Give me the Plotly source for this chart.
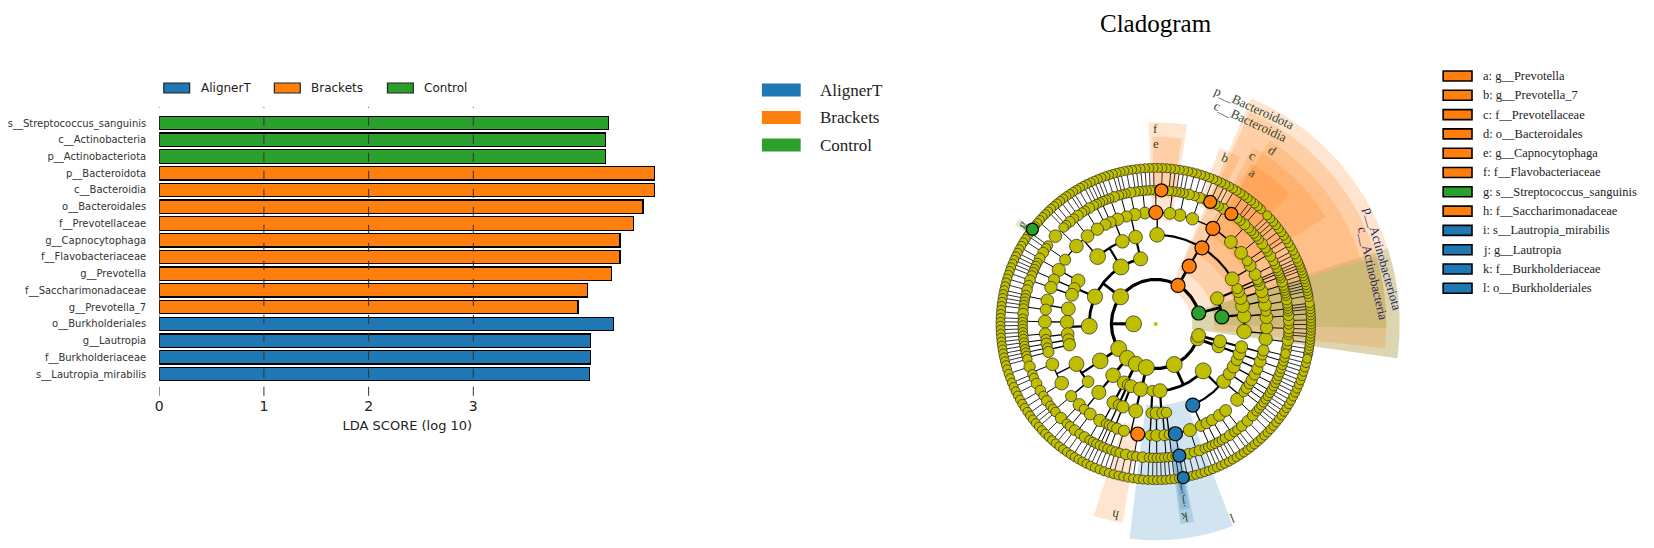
import numpy as np
import plotly.graph_objects as go

W, H = 1654, 548
OFF = 8                      # the page body adds an 8 px margin around the figure
FW, FH = W - OFF, H - OFF

# ---------------- LDA bar chart data ----------------
features = ["s__Streptococcus_sanguinis", "c__Actinobacteria", "p__Actinobacteriota",
            "p__Bacteroidota", "c__Bacteroidia", "o__Bacteroidales", "f__Prevotellaceae",
            "g__Capnocytophaga", "f__Flavobacteriaceae", "g__Prevotella",
            "f__Saccharimonadaceae", "g__Prevotella_7", "o__Burkholderiales",
            "g__Lautropia", "f__Burkholderiaceae", "s__Lautropia_mirabilis"]
lda_score = [4.29, 4.26, 4.26, 4.73, 4.73, 4.62, 4.53, 4.40, 4.40, 4.32,
             4.09, 4.00, 4.34, 4.12, 4.12, 4.11]
feature_group = ["Control"] * 3 + ["Brackets"] * 9 + ["AlignerT"] * 4
groups = ["AlignerT", "Brackets", "Control"]
group_colors = {"AlignerT": "#1f77b4", "Brackets": "#ff7f0e", "Control": "#2ca02c"}
group_fills = {"AlignerT": "rgba(31,119,180,0.2)", "Brackets": "rgba(255,127,14,0.2)",
               "Control": "rgba(44,160,44,0.2)"}
x_ticks = [0, 1, 2, 3]

# ---------------- cladogram data ----------------
# phylum -> classes -> orders -> families -> species count of each genus
phyla = ["p__Actinobacteriota", "p__Bacteroidota", "p__Firmicutes", "p__Fusobacteriota",
         "p__Campilobacterota", "p__Spirochaetota", "p__Patescibacteria",
         "p__Proteobacteria", "p__Synergistota", "p__Desulfobacterota"]
phylum_span = [(-12, 24), (24, 98), (98, 196), (196, 222), (222, 236), (236, 246),
               (246, 268), (268, 338), (338, 343), (343, 348)]
tree = [
    [[[[2, 1, 3, 1], [1, 2, 1]], [[2, 2, 1], [1]], [[1, 0, 2, 1], [1, 1]], [[1, 1, 2]]],
     [[[1, 1], [1]], [[1]]]],
    [[[[1, 1, 1], [2, 1], [1]],
      [[2, 1, 1, 1], [1, 0, 2, 1], [1, 3, 2, 1, 1, 2], [1, 2, 1], [2, 1, 1]],
      [[1, 1, 1], [3, 1, 1], [1, 1, 1]]]],
    [[[[1, 2, 1], [1, 1]]],
     [[[2, 1, 1], [1, 1]], [[1, 1], [2, 1, 1], [2, 1, 2], [1, 1, 6], [1, 1]]],
     [[[2, 2, 1, 1]], [[1, 1]], [[1, 2, 1]]],
     [[[2, 1, 1, 1], [1, 1]], [[2, 1, 1, 1, 1]], [[1, 1, 1], [1]], [[1, 1]], [[1], [1, 1]]]],
    [[[[3, 1, 1], [2, 2, 1, 2, 1]], [[1, 1]]]],
    [[[[3, 1], [1], [2, 1]]]],
    [[[[2, 1, 1], [1]]], [[[1]]]],
    [[[[1], [1, 1]]], [[[1, 1], [2, 1, 1, 2]]], [[[1]]]],
    [[[[1, 1, 1]], [[1, 1]], [[1]]],
     [[[1, 1, 1], [2, 1, 2, 1], [1, 1], [1, 1], [1, 1], [2, 1], [1, 2]],
      [[2, 2, 1, 1], [1]], [[1, 1], [1]], [[1, 1], [1, 1]], [[1, 1]]]],
    [[[[1, 1, 1]]]],
    [[[[1], [1, 1]]]],
]

sig_clades = ["p__Actinobacteriota", "c__Actinobacteria", "p__Bacteroidota", "c__Bacteroidia",
              "o__Bacteroidales", "f__Prevotellaceae", "g__Prevotella", "g__Prevotella_7",
              "f__Flavobacteriaceae", "g__Capnocytophaga", "s__Streptococcus_sanguinis",
              "f__Saccharimonadaceae", "o__Burkholderiales", "f__Burkholderiaceae",
              "g__Lautropia", "s__Lautropia_mirabilis"]
sig_paths = [(0,), (0, 0), (1,), (1, 0), (1, 0, 1), (1, 0, 1, 2), (1, 0, 1, 2, 1),
             (1, 0, 1, 2, 5), (1, 0, 2, 1), (1, 0, 2, 1, 0), (2, 1, 1, 3, 2, 5),
             (6, 1, 0, 1), (7, 1, 0), (7, 1, 0, 0), (7, 1, 0, 0, 1), (7, 1, 0, 0, 1, 0)]
sig_groups = ["Control", "Control", "Brackets", "Brackets", "Brackets", "Brackets", "Brackets",
              "Brackets", "Brackets", "Brackets", "Control", "Brackets", "AlignerT",
              "AlignerT", "AlignerT", "AlignerT"]

key_letters = list("abcdefghijkl")
key_clades = ["g__Prevotella", "g__Prevotella_7", "f__Prevotellaceae", "o__Bacteroidales",
              "g__Capnocytophaga", "f__Flavobacteriaceae", "s__Streptococcus_sanguinis",
              "f__Saccharimonadaceae", "s__Lautropia_mirabilis", "g__Lautropia",
              "f__Burkholderiaceae", "o__Burkholderiales"]
key_groups = ["Brackets"] * 6 + ["Control", "Brackets"] + ["AlignerT"] * 4

sector_text = ["p__Actinobacteriota", "c__Actinobacteria", "g",
               "p__Bacteroidota", "c__Bacteroidia", "d", "c", "a", "b", "f", "e", "h",
               "l", "k", "j", "i"]
sector_group = ["Control"] * 3 + ["Brackets"] * 9 + ["AlignerT"] * 4
sector_level = [2, 3, 7, 2, 3, 4, 5, 6, 6, 5, 6, 5, 4, 5, 6, 7]
sector_theta0 = [-8, -1, 142.5, -8, -6, 17, 32, 44, 63, 81, 82, -108, -97, -83, -82.5, -82]
sector_theta1 = [18, 17, 145, 67, 66, 58, 61, 59, 70, 92, 91, -99.5, -69, -79, -79.5, -80]
sector_label_theta = [16, 13, 143.5, 65.5, 64.8, 56, 60, 57.3, 67.3, 90, 90, -102, -68.5,
                      -81.5, -81, -81]

# ---------------- geometry / style ----------------
CX, CY, UNIT = 1153, 324, 22.3          # cladogram centre (screen px) and ring spacing
node_base = {1: 13, 2: 12, 3: 11, 4: 10.5, 5: 10, 6: 9.5, 7: 9}
sig_size = {2: 14, 3: 14, 4: 14, 5: 14, 6: 13, 7: 12}
edge_width = {2: 3.2, 3: 2.8, 4: 2.2, 5: 1.4, 6: 1.0, 7: 0.8}
r_out = {2: 11.0, 3: 10.4, 4: 9.7, 5: 9.05, 6: 8.4, 7: 7.75}
r_lab = {2: 10.65, 3: 10.05, 4: 9.4, 5: 8.75, 6: 8.1, 7: 7.5}
YELLOW = "#bfbf00"


def px(sx):
    return (sx - OFF) / FW


def py(sy):
    return 1 - (sy - OFF) / FH


fig = go.Figure()

# ---------------- bars ----------------
for g in groups:
    idx = [i for i, fg in enumerate(feature_group) if fg == g]
    fig.add_trace(go.Bar(
        x=[lda_score[i] for i in idx], y=[features[i] for i in idx],
        orientation="h", width=0.8,
        marker=dict(color=group_colors[g], line=dict(color="black", width=1.3)),
        showlegend=False, hoverinfo="skip", xaxis="x", yaxis="y"))

for t in x_ticks:
    fig.add_shape(type="line", xref="x", yref="y domain", x0=t, x1=t, y0=0, y1=1,
                  line=dict(color="#333333", width=1, dash="dash"), layer="above")


# ---------------- cladogram layout ----------------
def make_node(item, level, path):
    if level == 6:
        kids = [{"level": 7, "path": path + (k,), "kids": []} for k in range(item)]
    else:
        kids = [make_node(sub, level + 1, path + (k,)) for k, sub in enumerate(item)]
    return {"level": level, "path": path, "kids": kids}


def leaves(node):
    if not node["kids"]:
        return [node]
    return [lf for k in node["kids"] for lf in leaves(k)]


def place(node):
    if node["kids"]:
        for k in node["kids"]:
            place(k)
        node["theta"] = 0.5 * (node["kids"][0]["theta"] + node["kids"][-1]["theta"])


def walk(node):
    yield node
    for k in node["kids"]:
        yield from walk(k)


phylum_nodes = []
for p, (item, (a0, a1)) in enumerate(zip(tree, phylum_span)):
    node = make_node(item, 2, (p,))
    lv = leaves(node)
    for i, lf in enumerate(lv):
        lf["theta"] = a0 + (i + 0.5) * (a1 - a0) / len(lv)
    place(node)
    phylum_nodes.append(node)
kingdom = {"level": 1, "path": (), "kids": phylum_nodes,
           "theta": 0.5 * (phylum_nodes[0]["theta"] + phylum_nodes[-1]["theta"])}


def pol(r, th):
    t = np.radians(th)
    return r * np.cos(t), r * np.sin(t)


# highlighted sectors
for txt, g, lvl, t0, t1 in zip(sector_text, sector_group, sector_level,
                               sector_theta0, sector_theta1):
    ts = np.linspace(t0, t1, int(abs(t1 - t0)) * 2 + 3)
    xo, yo = pol(r_out[lvl], ts)
    xi, yi = pol(lvl - 0.35, ts[::-1])
    fig.add_trace(go.Scatter(
        x=np.r_[xo, xi, xo[:1]], y=np.r_[yo, yi, yo[:1]], mode="lines", fill="toself",
        fillcolor=group_fills[g], line=dict(width=0), hoverinfo="skip",
        showlegend=False, xaxis="x2", yaxis="y2"))

# edges: radial line from the parent, arc on the children's ring
edges = {lvl: ([], []) for lvl in edge_width}
for node in walk(kingdom):
    if not node["kids"]:
        continue
    rp, rc = node["level"], node["level"] + 1
    ex, ey = edges[rc]
    x0, y0 = pol(rp, node["theta"])
    x1, y1 = pol(rc, node["theta"])
    ex += [x0, x1, None]
    ey += [y0, y1, None]
    ts = [k["theta"] for k in node["kids"]]
    if len(ts) > 1:
        arc = np.linspace(ts[0], ts[-1], int(abs(ts[-1] - ts[0])) + 2)
        ax, ay = pol(rc, arc)
        ex += list(ax) + [None]
        ey += list(ay) + [None]
for lvl, (ex, ey) in edges.items():
    fig.add_trace(go.Scatter(x=ex, y=ey, mode="lines",
                             line=dict(color="black", width=edge_width[lvl]),
                             hoverinfo="skip", showlegend=False, xaxis="x2", yaxis="y2"))

# nodes (size grows with the number of leaves under a clade)
sig_lookup = dict(zip(sig_paths, sig_groups))
all_nodes = list(walk(kingdom))
fig.add_trace(go.Scatter(x=[0], y=[0], mode="markers", marker=dict(size=4, color=YELLOW),
                         hoverinfo="skip", showlegend=False, xaxis="x2", yaxis="y2"))
for lvl in range(1, 8):
    pts = [n for n in all_nodes if n["level"] == lvl and n["path"] not in sig_lookup]
    xs, ys = pol(np.array([lvl] * len(pts), float), np.array([n["theta"] for n in pts]))
    sizes = [min(node_base[lvl] + 1.2 * np.log2(len(leaves(n))), 16) for n in pts]
    fig.add_trace(go.Scatter(
        x=xs, y=ys, mode="markers",
        marker=dict(size=sizes, color=YELLOW, opacity=1,
                    line=dict(color="#222222", width=0.7)),
        hoverinfo="skip", showlegend=False, xaxis="x2", yaxis="y2"))
by_path = {n["path"]: n for n in all_nodes}
for path, g in zip(sig_paths, sig_groups):
    n = by_path[path]
    x, y = pol(n["level"], n["theta"])
    fig.add_trace(go.Scatter(
        x=[x], y=[y], mode="markers",
        marker=dict(size=sig_size[n["level"]], color=group_colors[g], opacity=1,
                    line=dict(color="black", width=1.2)),
        hoverinfo="skip", showlegend=False, xaxis="x2", yaxis="y2"))

# sector labels
for txt, g, lvl, th in zip(sector_text, sector_group, sector_level, sector_label_theta):
    x, y = pol(r_lab[lvl], th)
    ang = ((90 - th) + 180) % 360 - 180
    fig.add_annotation(x=x, y=y, xref="x2", yref="y2", text=txt, showarrow=False,
                       textangle=ang, xanchor="center", yanchor="middle",
                       font=dict(family="Liberation Serif", size=13,
                                 color="#2a2a66" if g == "Control" and lvl < 4 else "#34452e"))

# ---------------- titles & legends ----------------
fig.add_annotation(x=px(CX), y=py(23), xref="paper", yref="paper", text="Cladogram",
                   showarrow=False, xanchor="center", yanchor="middle",
                   font=dict(family="Liberation Serif", size=25, color="black"))

bar_leg_x = [155.6, 266.8, 380.5]
for g, x0 in zip(groups, bar_leg_x):
    fig.add_shape(type="rect", xref="paper", yref="paper", x0=px(x0), x1=px(x0 + 26),
                  y0=py(93), y1=py(83), fillcolor=group_colors[g],
                  line=dict(color="#222222", width=1.2))
    fig.add_annotation(x=px(x0 + 35), y=py(88), xref="paper", yref="paper", text=g,
                       showarrow=False, xanchor="left", yanchor="middle",
                       font=dict(family="DejaVu Sans", size=12, color="#222222"))

for k, g in enumerate(groups):
    yc = 90 + 27.5 * k
    fig.add_shape(type="rect", xref="paper", yref="paper", x0=px(757), x1=px(796),
                  y0=py(yc + 6.5), y1=py(yc - 6.5), fillcolor=group_colors[g], line=dict(width=0))
    fig.add_annotation(x=px(813), y=py(yc), xref="paper", yref="paper", text=g,
                       showarrow=False, xanchor="left", yanchor="middle",
                       font=dict(family="Liberation Serif", size=17, color="#222222"))

for k, (letter, clade, g) in enumerate(zip(key_letters, key_clades, key_groups)):
    yc = 76 + 19.3 * k
    fig.add_shape(type="rect", xref="paper", yref="paper", x0=px(1442), x1=px(1471),
                  y0=py(yc + 5), y1=py(yc - 5), fillcolor=group_colors[g],
                  line=dict(color="black", width=1.6))
    fig.add_annotation(x=px(1480), y=py(yc), xref="paper", yref="paper",
                       text=f"{letter}: {clade}", showarrow=False, xanchor="left",
                       yanchor="middle",
                       font=dict(family="Liberation Serif", size=12.5, color="#222222"))

fig.update_layout(
    width=FW, height=FH, margin=dict(l=0, r=0, t=0, b=0),
    paper_bgcolor="white", plot_bgcolor="white", showlegend=False, barmode="stack",
    xaxis=dict(domain=[px(151), px(650)], range=[0, 4.74], tickvals=x_ticks,
               showgrid=False, zeroline=False, showline=False, ticks="",
               tickfont=dict(family="DejaVu Sans", size=14, color="#222222"),
               title=dict(text="LDA SCORE (log 10)", standoff=8,
                          font=dict(family="DejaVu Sans", size=13, color="#222222")),
               anchor="y", fixedrange=True),
    yaxis=dict(domain=[py(395.8), py(107)], categoryorder="array",
               categoryarray=features[::-1], range=[-1.3, 15.96], showgrid=False,
               zeroline=False, showline=False, ticks="outside", ticklen=10,
               tickcolor="rgba(0,0,0,0)",
               tickfont=dict(family="DejaVu Sans", size=10, color="#333333"),
               anchor="x", fixedrange=True),
    xaxis2=dict(domain=[px(900), px(1420)], range=[(900 - CX) / UNIT, (1420 - CX) / UNIT],
                visible=False, anchor="y2", fixedrange=True),
    yaxis2=dict(domain=[0, 1], range=[(CY - H) / UNIT, (CY - OFF) / UNIT], visible=False,
                anchor="x2", fixedrange=True),
)

fig.write_html("out.html")
